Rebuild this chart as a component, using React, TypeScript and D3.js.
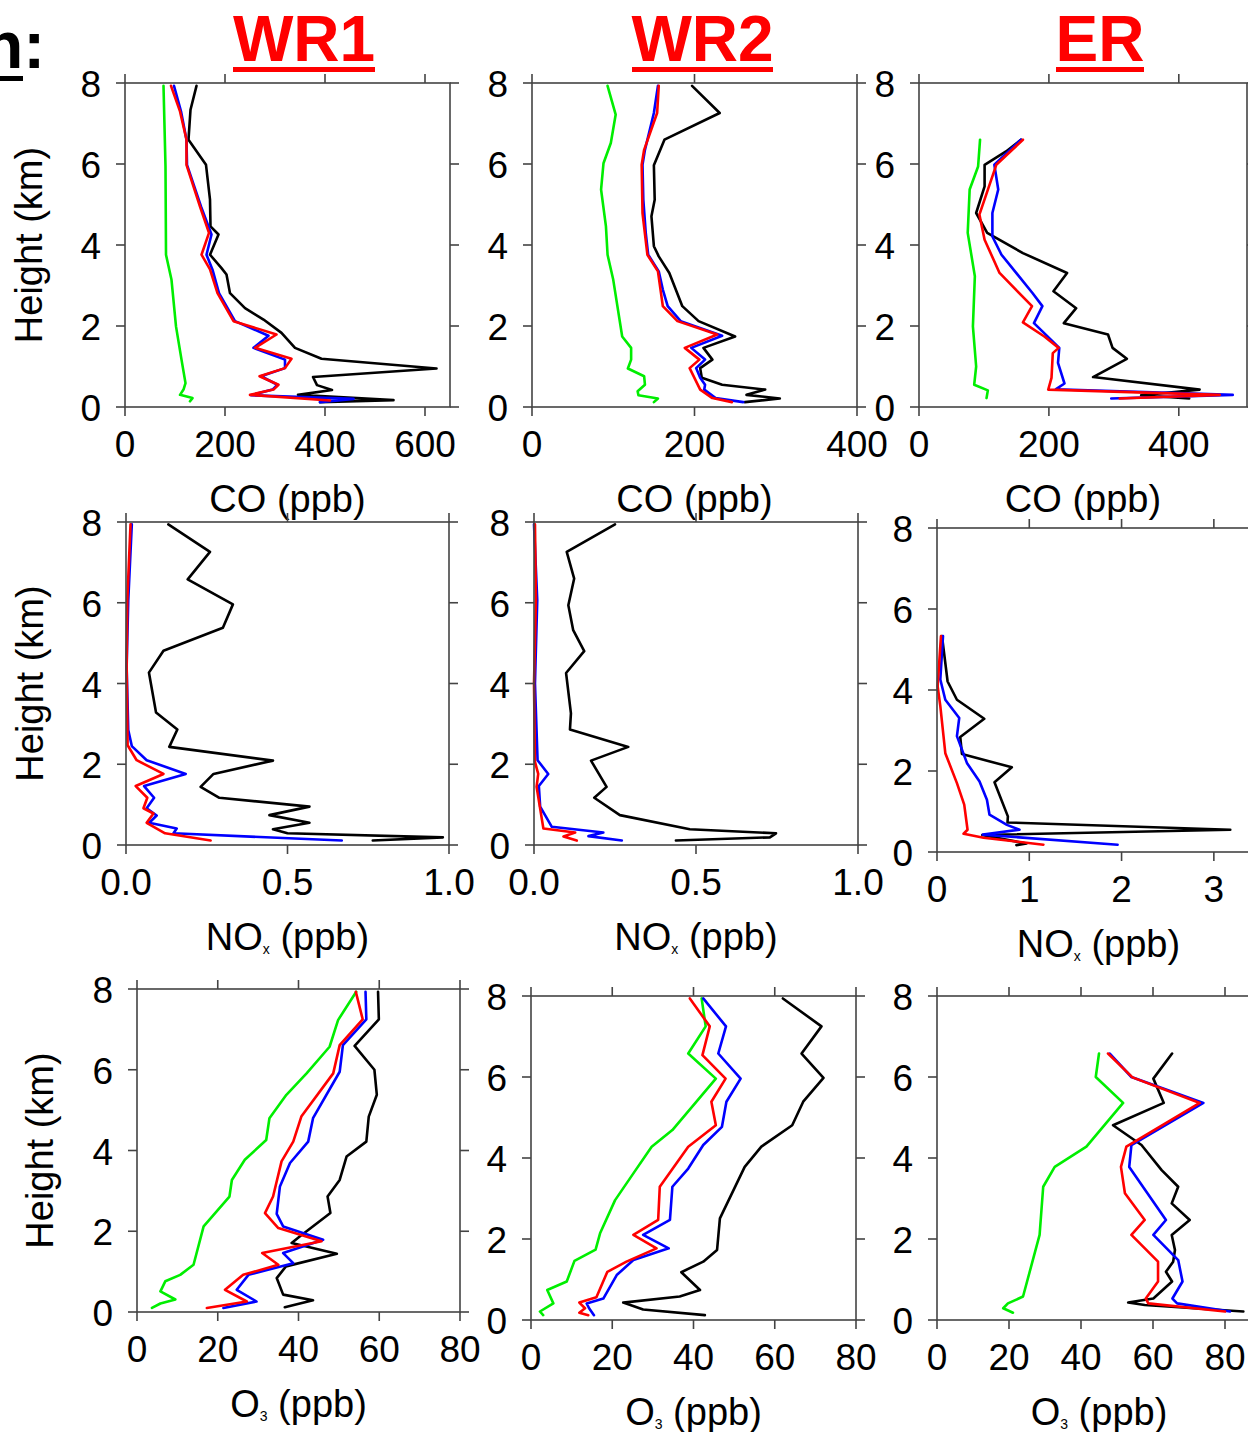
import React from 'react';
import * as d3 from 'd3';

type Pt = [number, number]; // [mixing ratio, height in km]

// ---------- tick values ----------
const heightTicks = [0, 2, 4, 6, 8];
const coTicksWR1 = [0, 200, 400, 600];
const coTicksWR2 = [0, 200, 400];
const coTicksER = [0, 200, 400];
const noxTicksWR = [0, 0.5, 1.0];
const noxTicksER = [0, 1, 2, 3];
const o3Ticks = [0, 20, 40, 60, 80];

const regionTitles = ['WR1', 'WR2', 'ER'];

// ---------- CO (ppb) ----------
const coWR1Black: Pt[] = [[143,7.93],[131,7.34],[127,6.6],[162,5.98],[170,5.12],[171,4.46],[187,4.26],[170,3.76],[193,3.43],[203,3.27],[210,2.81],[240,2.44],[277,2.16],[313,1.83],[340,1.46],[393,1.19],[623,0.95],[376,0.74],[384,0.54],[414,0.42],[346,0.3],[537,0.17],[390,0.12]];
const coWR1Blue: Pt[] = [[98,7.93],[112,7.3],[123,6.6],[124,5.98],[152,4.95],[173,4.26],[163,3.76],[175,3.39],[188,2.81],[220,2.12],[287,1.76],[257,1.46],[320,1.17],[320,0.96],[272,0.76],[305,0.55],[295,0.43],[252,0.29],[457,0.2],[390,0.12]];
const coWR1Red: Pt[] = [[92,7.93],[110,7.3],[123,6.6],[123,5.98],[150,4.95],[168,4.3],[153,3.76],[170,3.4],[185,2.81],[217,2.12],[303,1.79],[260,1.46],[333,1.19],[320,0.96],[269,0.76],[307,0.55],[297,0.43],[250,0.3],[410,0.16]];
const coWR1Green: Pt[] = [[77,7.93],[81,5.94],[82,3.76],[93,3.14],[102,1.99],[113,1.17],[121,0.59],[117,0.43],[110,0.3],[135,0.22],[130,0.14]];

const coWR2Black: Pt[] = [[197,7.93],[231,7.26],[163,6.6],[150,5.97],[151,5.12],[147,4.71],[150,3.97],[156,3.72],[169,3.31],[185,2.49],[205,2.12],[250,1.74],[211,1.46],[222,1.17],[207,0.96],[209,0.72],[234,0.55],[287,0.43],[264,0.3],[305,0.21],[262,0.12]];
const coWR2Blue: Pt[] = [[155,7.93],[150,7.26],[139,6.35],[136,5.98],[137,5.12],[140,4.3],[143,3.76],[156,3.35],[161,2.9],[167,2.49],[183,2.12],[234,1.76],[196,1.46],[213,1.17],[202,0.96],[207,0.72],[213,0.55],[212,0.43],[226,0.22],[260,0.12]];
const coWR2Red: Pt[] = [[156,7.93],[154,7.26],[138,6.35],[135,5.98],[136,4.79],[142,3.76],[155,3.35],[161,2.49],[179,2.12],[228,1.79],[188,1.46],[206,1.17],[194,0.96],[207,0.43],[222,0.22],[246,0.12]];
const coWR2Green: Pt[] = [[93,7.93],[103,7.22],[97,6.52],[88,6.02],[85,5.37],[91,4.46],[93,3.76],[100,3.14],[111,1.74],[122,1.46],[122,1.17],[118,0.95],[138,0.76],[139,0.55],[130,0.39],[131,0.29],[155,0.21],[150,0.12]];

const coERBlack: Pt[] = [[157,6.6],[134,6.31],[101,5.98],[101,5.45],[88,4.79],[105,4.3],[160,3.8],[228,3.31],[207,2.86],[242,2.44],[223,2.07],[291,1.79],[298,1.46],[320,1.19],[268,0.74],[432,0.43],[342,0.29],[416,0.21]];
const coERBlue: Pt[] = [[157,6.6],[116,5.98],[122,5.37],[113,4.79],[113,4.21],[127,3.76],[175,2.81],[190,2.49],[177,2.07],[216,1.46],[214,1.09],[224,0.58],[211,0.44],[483,0.3],[296,0.21]];
const coERRed: Pt[] = [[160,6.6],[119,5.98],[93,4.75],[101,4.13],[124,3.31],[174,2.49],[160,2.09],[193,1.74],[215,1.46],[206,1.33],[204,0.72],[199,0.43],[463,0.3],[309,0.21]];
const coERGreen: Pt[] = [[94,6.6],[91,5.94],[78,5.37],[75,4.3],[86,3.23],[83,1.99],[88,1.0],[85,0.55],[106,0.41],[104,0.22]];

// ---------- NOx (ppb) ----------
const noxWR1Black: Pt[] = [[0.131,7.94],[0.26,7.26],[0.191,6.58],[0.331,5.96],[0.3,5.38],[0.116,4.81],[0.071,4.27],[0.093,3.28],[0.159,2.86],[0.134,2.43],[0.455,2.09],[0.271,1.76],[0.231,1.44],[0.289,1.17],[0.568,0.95],[0.444,0.74],[0.568,0.55],[0.455,0.39],[0.5,0.29],[0.981,0.19],[0.764,0.11]];
const noxWR1Blue: Pt[] = [[0.018,7.94],[0.007,6.06],[0.002,4.41],[0.007,2.85],[0.018,2.45],[0.064,2.1],[0.185,1.76],[0.056,1.46],[0.087,1.17],[0.064,0.91],[0.095,0.73],[0.072,0.55],[0.157,0.41],[0.147,0.29],[0.668,0.11]];
const noxWR1Red: Pt[] = [[0.014,7.94],[0.004,6.06],[0.002,4.41],[0.005,2.47],[0.033,2.1],[0.116,1.76],[0.03,1.46],[0.066,1.17],[0.054,0.91],[0.085,0.78],[0.064,0.55],[0.121,0.29],[0.262,0.11]];

const noxWR2Black: Pt[] = [[0.25,7.94],[0.101,7.26],[0.124,6.6],[0.106,5.94],[0.121,5.32],[0.155,4.8],[0.099,4.26],[0.114,3.26],[0.111,2.86],[0.291,2.43],[0.176,2.09],[0.224,1.44],[0.186,1.17],[0.265,0.74],[0.481,0.39],[0.747,0.29],[0.728,0.19],[0.438,0.11]];
const noxWR2Blue: Pt[] = [[0.0,7.94],[0.01,6.06],[0.003,4.0],[0.011,2.1],[0.044,1.76],[0.015,1.46],[0.019,0.95],[0.055,0.45],[0.214,0.31],[0.168,0.22],[0.271,0.11]];
const noxWR2Red: Pt[] = [[0.003,7.94],[0.006,6.06],[0.0,4.0],[0.003,2.06],[0.013,1.76],[0.008,1.44],[0.029,0.41],[0.127,0.31],[0.091,0.21],[0.132,0.11]];

const noxERBlack: Pt[] = [[0.054,5.33],[0.115,4.21],[0.216,3.76],[0.512,3.29],[0.252,2.84],[0.27,2.42],[0.811,2.09],[0.623,1.72],[0.768,0.88],[0.764,0.73],[3.178,0.55],[0.49,0.42],[0.97,0.21],[0.86,0.17]];
const noxERBlue: Pt[] = [[0.065,5.33],[0.036,4.26],[0.09,3.76],[0.241,3.31],[0.216,2.86],[0.324,2.2],[0.461,1.74],[0.541,1.29],[0.569,0.92],[0.757,0.67],[0.894,0.55],[0.497,0.43],[1.957,0.18]];
const noxERRed: Pt[] = [[0.043,5.33],[0.007,4.09],[0.036,3.6],[0.09,2.44],[0.216,1.7],[0.295,1.17],[0.331,0.55],[0.288,0.45],[0.505,0.35],[1.153,0.18]];

// ---------- O3 (ppb) ----------
const o3WR1Black: Pt[] = [[59.7,7.93],[59.9,7.25],[53.9,6.59],[58.8,6.0],[59.4,5.38],[57.4,4.84],[56.8,4.22],[51.9,3.85],[50.2,3.27],[47.2,2.86],[47.9,2.45],[40.3,1.87],[38.3,1.71],[49.5,1.44],[36.9,1.13],[34.6,0.84],[36.2,0.43],[43.6,0.29],[36.6,0.12]];
const o3WR1Blue: Pt[] = [[56.6,7.93],[56.8,7.25],[51.0,6.61],[50.2,5.95],[43.6,4.8],[42.4,4.22],[37.9,3.69],[35.4,3.11],[34.6,2.43],[36.2,2.12],[46.1,1.79],[36.2,1.46],[38.7,1.21],[27.6,0.92],[24.7,0.55],[29.6,0.26],[21.4,0.1]];
const o3WR1Red: Pt[] = [[54.2,7.93],[55.9,7.25],[50.2,6.61],[48.6,5.91],[40.7,4.84],[38.7,4.22],[35.8,3.73],[33.7,2.86],[31.7,2.45],[35.0,2.08],[45.7,1.75],[31.0,1.46],[35.0,1.17],[26.3,0.92],[21.8,0.55],[27.2,0.26],[17.3,0.1]];
const o3WR1Green: Pt[] = [[54.3,7.93],[49.8,7.23],[47.7,6.57],[42.0,5.91],[37.0,5.38],[32.8,4.8],[32.0,4.26],[26.7,3.77],[23.5,3.27],[22.9,2.86],[16.5,2.12],[14.0,1.17],[10.7,0.92],[7.0,0.76],[5.8,0.51],[9.5,0.31],[5.8,0.21],[3.7,0.1]];

const o3WR2Black: Pt[] = [[62.0,7.94],[71.5,7.25],[66.6,6.58],[72.0,5.98],[67.0,5.39],[64.3,4.81],[56.7,4.28],[52.6,3.78],[46.5,2.51],[45.8,1.73],[42.4,1.44],[37.0,1.18],[41.6,0.74],[36.6,0.58],[22.7,0.43],[27.6,0.26],[42.8,0.12]];
const o3WR2Blue: Pt[] = [[42.4,7.94],[48.0,7.25],[46.1,6.58],[51.6,5.96],[48.1,5.39],[47.0,4.77],[42.4,4.32],[38.7,3.74],[34.8,3.29],[34.2,2.47],[27.6,2.1],[33.9,1.77],[25.2,1.48],[21.1,1.11],[17.8,0.53],[13.7,0.41],[14.3,0.29],[15.5,0.12]];
const o3WR2Red: Pt[] = [[39.1,7.94],[44.0,7.25],[42.2,6.54],[47.9,5.96],[44.4,5.39],[45.5,4.81],[38.7,4.28],[31.7,3.29],[31.3,2.47],[25.2,2.1],[30.9,1.77],[23.5,1.44],[18.8,1.19],[16.1,0.56],[11.9,0.43],[13.3,0.29],[11.9,0.18],[14.1,0.12]];
const o3WR2Green: Pt[] = [[42.0,7.94],[43.0,7.25],[38.7,6.58],[45.5,5.96],[34.8,4.69],[29.7,4.28],[25.2,3.62],[20.7,2.96],[17.0,2.14],[15.9,1.74],[10.7,1.46],[8.8,0.95],[4.0,0.74],[5.5,0.41],[2.2,0.21],[3.0,0.12]];

const o3ERBlack: Pt[] = [[65.3,6.58],[60.1,5.96],[63.0,5.36],[48.9,4.81],[56.8,4.32],[62.4,3.7],[67.0,3.29],[65.2,2.88],[70.2,2.47],[65.2,2.1],[66.1,1.73],[65.6,1.44],[63.6,1.19],[65.3,0.95],[60.1,0.53],[53.1,0.43],[57.7,0.37],[85.1,0.21]];
const o3ERBlue: Pt[] = [[48.0,6.58],[54.0,6.0],[74.0,5.36],[54.0,4.32],[53.4,3.78],[63.6,2.47],[60.1,2.1],[67.0,1.48],[68.2,0.95],[65.4,0.53],[66.7,0.41],[81.4,0.21]];
const o3ERRed: Pt[] = [[47.5,6.58],[54.3,5.99],[73.0,5.36],[52.6,4.28],[51.1,3.78],[52.2,3.13],[57.7,2.47],[54.0,2.1],[61.4,1.44],[61.4,0.95],[58.0,0.53],[58.7,0.41],[80.0,0.21]];
const o3ERGreen: Pt[] = [[45.0,6.58],[44.1,6.0],[51.7,5.36],[41.5,4.28],[32.7,3.78],[29.5,3.29],[28.5,2.1],[23.9,0.58],[19.7,0.41],[18.4,0.29],[21.1,0.18]];

// ---------- styling ----------
const FONT = '"Liberation Sans", Arial, Helvetica, sans-serif';
const BLACK = '#000000';
const BLUE = '#0000ff';
const RED = '#ff0000';
const GREEN = '#00ee00';
const FRAME = '#444444';
const TICK_LEN = 9;
const TICK_FONT = 37;

type Species = 'CO' | 'NOx' | 'O3';

interface Series { color: string; pts: Pt[] }
interface PanelSpec {
  left: number; top: number; right: number; bottom: number;
  xMax: number; xTicks: number[]; fmt: (v: number) => string;
  species: Species; yTitleX: number | null; series: Series[];
}

const intFmt = (v: number) => String(v);
const oneDec = (v: number) => v.toFixed(1);

const panels: PanelSpec[] = [
  { left: 125, top: 83, right: 450, bottom: 407, xMax: 650, xTicks: coTicksWR1, fmt: intFmt, species: 'CO', yTitleX: 42,
    series: [{ color: GREEN, pts: coWR1Green }, { color: BLACK, pts: coWR1Black }, { color: BLUE, pts: coWR1Blue }, { color: RED, pts: coWR1Red }] },
  { left: 532, top: 83, right: 857, bottom: 407, xMax: 400, xTicks: coTicksWR2, fmt: intFmt, species: 'CO', yTitleX: null,
    series: [{ color: GREEN, pts: coWR2Green }, { color: BLACK, pts: coWR2Black }, { color: BLUE, pts: coWR2Blue }, { color: RED, pts: coWR2Red }] },
  { left: 919, top: 83, right: 1247, bottom: 407, xMax: 505, xTicks: coTicksER, fmt: intFmt, species: 'CO', yTitleX: null,
    series: [{ color: GREEN, pts: coERGreen }, { color: BLACK, pts: coERBlack }, { color: BLUE, pts: coERBlue }, { color: RED, pts: coERRed }] },
  { left: 126, top: 522, right: 449, bottom: 845, xMax: 1.0, xTicks: noxTicksWR, fmt: oneDec, species: 'NOx', yTitleX: 43,
    series: [{ color: BLACK, pts: noxWR1Black }, { color: BLUE, pts: noxWR1Blue }, { color: RED, pts: noxWR1Red }] },
  { left: 534, top: 522, right: 858, bottom: 845, xMax: 1.0, xTicks: noxTicksWR, fmt: oneDec, species: 'NOx', yTitleX: null,
    series: [{ color: BLACK, pts: noxWR2Black }, { color: BLUE, pts: noxWR2Blue }, { color: RED, pts: noxWR2Red }] },
  { left: 937, top: 528, right: 1260, bottom: 852, xMax: 3.5, xTicks: noxTicksER, fmt: intFmt, species: 'NOx', yTitleX: null,
    series: [{ color: BLACK, pts: noxERBlack }, { color: BLUE, pts: noxERBlue }, { color: RED, pts: noxERRed }] },
  { left: 137, top: 989, right: 460, bottom: 1312, xMax: 80, xTicks: o3Ticks, fmt: intFmt, species: 'O3', yTitleX: 53,
    series: [{ color: GREEN, pts: o3WR1Green }, { color: BLACK, pts: o3WR1Black }, { color: BLUE, pts: o3WR1Blue }, { color: RED, pts: o3WR1Red }] },
  { left: 531, top: 996, right: 856, bottom: 1320, xMax: 80, xTicks: o3Ticks, fmt: intFmt, species: 'O3', yTitleX: null,
    series: [{ color: GREEN, pts: o3WR2Green }, { color: BLACK, pts: o3WR2Black }, { color: BLUE, pts: o3WR2Blue }, { color: RED, pts: o3WR2Red }] },
  { left: 937, top: 996, right: 1261, bottom: 1320, xMax: 90, xTicks: o3Ticks, fmt: intFmt, species: 'O3', yTitleX: null,
    series: [{ color: GREEN, pts: o3ERGreen }, { color: BLACK, pts: o3ERBlack }, { color: BLUE, pts: o3ERBlue }, { color: RED, pts: o3ERRed }] },
];

// region headings: centre x and underline width
const titleLayout = [
  { cx: 304, w: 142 },
  { cx: 702.5, w: 141 },
  { cx: 1100, w: 88 },
];

function XTitle({ species, cx, y }: { species: Species; cx: number; y: number }) {
  const common = { x: cx, y, textAnchor: 'middle' as const, fontFamily: FONT, fontSize: 38, fill: '#000' };
  if (species === 'CO') return <text {...common}>CO (ppb)</text>;
  const main = species === 'NOx' ? 'NO' : 'O';
  const sub = species === 'NOx' ? 'x' : '3';
  return (
    <text {...common}>
      {main}
      <tspan fontSize={14} dy={4}>{sub}</tspan>
      <tspan dy={-4}> (ppb)</tspan>
    </text>
  );
}

function Panel({ p }: { p: PanelSpec }) {
  const x = d3.scaleLinear().domain([0, p.xMax]).range([p.left, p.right]);
  const y = d3.scaleLinear().domain([0, 8]).range([p.bottom, p.top]);
  const line = d3.line<Pt>().x(d => x(d[0])).y(d => y(d[1]));
  const cx = (p.left + p.right) / 2;
  const cy = (p.top + p.bottom) / 2;
  return (
    <g>
      {p.series.map((s, i) => (
        <path key={i} d={line(s.pts) || ''} fill="none" stroke={s.color} strokeWidth={2.6}
          strokeLinejoin="round" strokeLinecap="round" />
      ))}
      <rect x={p.left} y={p.top} width={p.right - p.left} height={p.bottom - p.top}
        fill="none" stroke={FRAME} strokeWidth={1.6} />
      {heightTicks.map(t => (
        <g key={'y' + t}>
          <line x1={p.left - TICK_LEN} x2={p.left} y1={y(t)} y2={y(t)} stroke={FRAME} strokeWidth={1.6} />
          <line x1={p.right} x2={p.right + TICK_LEN} y1={y(t)} y2={y(t)} stroke={FRAME} strokeWidth={1.6} />
          <text x={p.left - 24} y={y(t) + 14} textAnchor="end" fontFamily={FONT} fontSize={TICK_FONT}>{t}</text>
        </g>
      ))}
      {p.xTicks.map(t => (
        <g key={'x' + t}>
          <line x1={x(t)} x2={x(t)} y1={p.bottom} y2={p.bottom + TICK_LEN} stroke={FRAME} strokeWidth={1.6} />
          <line x1={x(t)} x2={x(t)} y1={p.top - TICK_LEN} y2={p.top} stroke={FRAME} strokeWidth={1.6} />
          <text x={x(t)} y={p.bottom + 50} textAnchor="middle" fontFamily={FONT} fontSize={TICK_FONT}>{p.fmt(t)}</text>
        </g>
      ))}
      <XTitle species={p.species} cx={cx} y={p.bottom + 105} />
      {p.yTitleX !== null && (
        <text transform={`translate(${p.yTitleX},${cy}) rotate(-90)`} textAnchor="middle"
          fontFamily={FONT} fontSize={38}>Height (km)</text>
      )}
    </g>
  );
}

export default function App() {
  return (
    <svg width={1248} height={1432} viewBox="0 0 1248 1432"
      style={{ position: 'absolute', left: 0, top: 0, background: '#fff' }}>
      <rect x={0} y={0} width={1248} height={1432} fill="#fff" />
      {/* section heading continuing in from the left edge */}
      <text x={-17} y={68} fontFamily={FONT} fontWeight="bold" fontSize={66} fill="#000">n:</text>
      <rect x={0} y={76} width={23} height={5} fill="#000" />
      {regionTitles.map((t, i) => (
        <g key={t}>
          <text x={titleLayout[i].cx} y={61} textAnchor="middle" fontFamily={FONT} fontWeight="bold"
            fontSize={64} fill={RED}>{t}</text>
          <rect x={titleLayout[i].cx - titleLayout[i].w / 2} y={67} width={titleLayout[i].w} height={5} fill={RED} />
        </g>
      ))}
      {panels.map((p, i) => <Panel key={i} p={p} />)}
    </svg>
  );
}
